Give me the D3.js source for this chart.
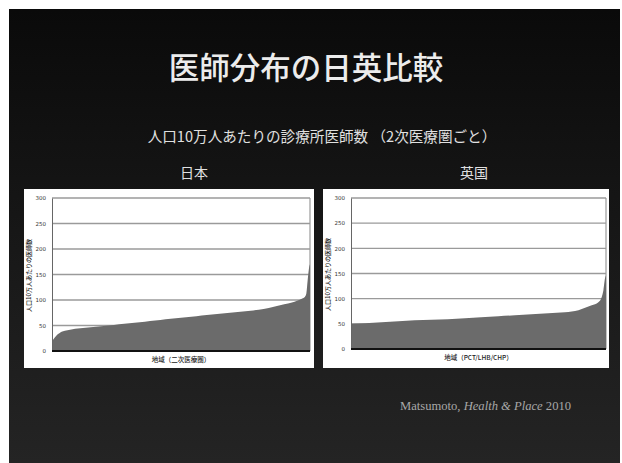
<!DOCTYPE html>
<html>
<head>
<meta charset="utf-8">
<script src="https://cdn.jsdelivr.net/npm/d3@7"></script>
<style>
  body { margin: 0; background: #fff; }
</style>
</head>
<body>
<div id="root"></div>
<script>
// values (areas sorted low -> high, rank in % of areas)
var yTicks = [0, 50, 100, 150, 200, 250, 300];

var jpRank  = [0, 1, 2, 3, 4, 6, 8, 10, 14, 18, 22, 26, 30, 34, 38, 42, 46, 50, 54, 58, 62, 66, 70, 74, 78, 82, 86, 90, 93, 95, 97, 98, 98.6, 99.1, 99.6, 100];
var jpValue = [19, 26, 32, 35.5, 38, 40.5, 42.5, 44, 46, 48, 50, 52.5, 54.5, 56.5, 59, 61, 63, 65, 67, 69.5, 71.5, 73.5, 75.5, 77.5, 79.5, 82.5, 87, 91.5, 95, 98.5, 103, 106, 113, 139, 162, 170];

var ukRank  = [0, 5.5, 12, 18.6, 25, 31.6, 38, 44.7, 51, 57.8, 64.3, 70.8, 77.4, 83.9, 89.2, 91.8, 94.4, 97, 98.3, 99, 99.6, 100];
var ukValue = [50, 51, 53, 55, 57, 58, 59, 61, 63, 65, 67, 69, 71, 73, 77, 82, 87, 93, 103, 117, 140, 146];

var slideTitle = '医師分布の日英比較';
var subTitle = '人口10万人あたりの診療所医師数 （2次医療圏ごと）';
var yTitle = '人口10万人あたりの医師数';

function drawSlide () {

  var width = 622;
  var height = 463;

  var svg = d3.select('#root')
    .append('svg')
      .attr('width', width)
      .attr('height', height)
      .style('display', 'block');

  var grad = svg.append('defs')
    .append('linearGradient')
      .attr('id', 'bg')
      .attr('x1', 0).attr('y1', 0)
      .attr('x2', 0).attr('y2', 1);
  grad.append('stop').attr('offset', '0%').attr('stop-color', '#0a0a0a');
  grad.append('stop').attr('offset', '45%').attr('stop-color', '#161616');
  grad.append('stop').attr('offset', '100%').attr('stop-color', '#242424');

  svg.append('rect')
    .attr('x', 9)
    .attr('y', 9)
    .attr('width', 611)
    .attr('height', height - 9)
    .attr('fill', 'url(#bg)');

  var jp = 'Noto Sans CJK JP, sans-serif';

  svg.append('text')
    .attr('x', 306)
    .attr('y', 79)
    .attr('text-anchor', 'middle')
    .attr('font-family', jp)
    .attr('font-size', 30.5)
    .attr('font-weight', 500)
    .attr('fill', '#ececec')
    .text(slideTitle);

  svg.append('text')
    .attr('x', 322)
    .attr('y', 142)
    .attr('text-anchor', 'middle')
    .attr('font-family', jp)
    .attr('font-size', 14.6)
    .attr('fill', '#e0e0e0')
    .text(subTitle);

  svg.append('text')
    .attr('x', 194)
    .attr('y', 178)
    .attr('text-anchor', 'middle')
    .attr('font-family', jp)
    .attr('font-size', 14)
    .attr('fill', '#e0e0e0')
    .text('日本');

  svg.append('text')
    .attr('x', 474)
    .attr('y', 178)
    .attr('text-anchor', 'middle')
    .attr('font-family', jp)
    .attr('font-size', 14)
    .attr('fill', '#e0e0e0')
    .text('英国');

  drawPanel(svg, {
    box: [24, 189, 290, 179],
    plot: [52, 198, 310, 351],
    rank: jpRank,
    value: jpValue,
    xTitle: '地域（二次医療圏）',
    xTitleY: 362,
    yTitleX: 31
  });

  drawPanel(svg, {
    box: [323, 189, 286, 179],
    plot: [351, 198, 606, 349],
    rank: ukRank,
    value: ukValue,
    xTitle: '地域（PCT/LHB/CHP）',
    xTitleY: 360,
    yTitleX: 330
  });

  // citation
  var cite = svg.append('text')
    .attr('x', 400)
    .attr('y', 410)
    .attr('font-family', 'Liberation Serif, serif')
    .attr('font-size', 12.6)
    .attr('fill', '#a8a8a8');
  cite.append('tspan').text('Matsumoto, ');
  cite.append('tspan').attr('font-style', 'italic').text('Health & Place');
  cite.append('tspan').text(' 2010');
}

function drawPanel (svg, o) {

  var left = o.plot[0], top = o.plot[1], right = o.plot[2], bottom = o.plot[3];

  var g = svg.append('g');

  g.append('rect')
    .attr('x', o.box[0])
    .attr('y', o.box[1])
    .attr('width', o.box[2])
    .attr('height', o.box[3])
    .attr('fill', '#fff');

  var x = d3.scaleLinear().domain([0, 100]).range([left, right]);
  var y = d3.scaleLinear().domain([0, 300]).range([bottom, top]);

  // gridlines
  g.selectAll('line.grid')
    .data(yTicks.filter(function(t) { return t > 0; }))
    .enter()
    .append('line')
      .attr('class', 'grid')
      .attr('x1', left)
      .attr('x2', right)
      .attr('y1', function(d) { return y(d); })
      .attr('y2', function(d) { return y(d); })
      .attr('stroke', '#9a9a9a')
      .attr('stroke-width', 1.4);

  g.append('line')
    .attr('x1', right).attr('x2', right)
    .attr('y1', y(300)).attr('y2', y(0))
    .attr('stroke', '#9a9a9a')
    .attr('stroke-width', 1.2);

  var data = o.rank.map(function(r, i) { return {rank: r, value: o.value[i]}; });

  var area = d3.area()
    .x(function(d) { return x(d.rank); })
    .y0(y(0))
    .y1(function(d) { return y(d.value); })
    .curve(d3.curveMonotoneX);

  g.append('path')
    .datum(data)
    .attr('d', area)
    .attr('fill', '#6b6b6b');

  var axis = g.append('g')
    .attr('transform', 'translate(' + left + ',0)')
    .call(d3.axisLeft(y).tickValues(yTicks).tickSize(0).tickPadding(6));
  axis.select('.domain').attr('stroke', '#666').attr('stroke-width', 1);
  axis.selectAll('text')
    .attr('font-family', 'DejaVu Sans, sans-serif')
    .attr('font-size', 5.5)
    .attr('fill', '#333');

  g.append('line')
    .attr('x1', left).attr('x2', right)
    .attr('y1', y(0)).attr('y2', y(0))
    .attr('stroke', '#111')
    .attr('stroke-width', 2);

  g.append('text')
    .attr('transform', 'translate(' + o.yTitleX + ',' + ((top + bottom) / 2 + 1) + ') rotate(-90)')
    .attr('text-anchor', 'middle')
    .attr('font-family', 'Noto Sans CJK JP, sans-serif')
    .attr('font-size', 6)
    .attr('font-weight', 500)
    .attr('fill', '#222')
    .text(yTitle);

  g.append('text')
    .attr('x', (left + right) / 2)
    .attr('y', o.xTitleY)
    .attr('text-anchor', 'middle')
    .attr('font-family', 'Noto Sans CJK JP, sans-serif')
    .attr('font-size', 6.5)
    .attr('font-weight', 500)
    .attr('fill', '#222')
    .text(o.xTitle);
}

drawSlide();
</script>
</body>
</html>
